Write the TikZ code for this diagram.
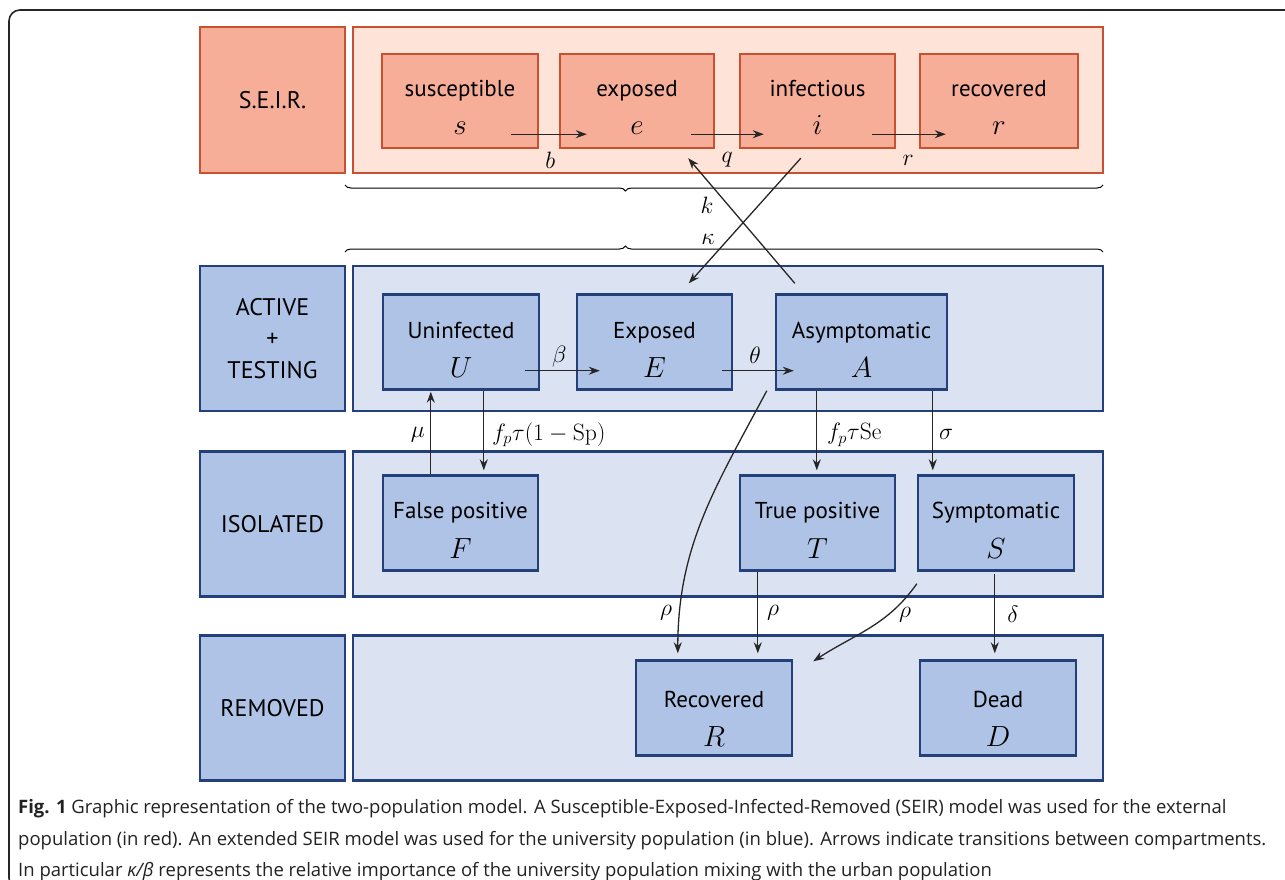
\documentclass[tikz,border=0pt]{standalone}
\usepackage[no-math]{fontspec}
\setmainfont{PT Sans}
\newfontfamily\capfont{Open Sans}
\usetikzlibrary{arrows.meta,decorations.pathreplacing,calc}
\definecolor{redfill}{HTML}{F6AE99}
\definecolor{redline}{HTML}{C9512F}
\definecolor{redpanel}{HTML}{FDE3D8}
\definecolor{bluefill}{HTML}{AEC3E5}
\definecolor{blueline}{HTML}{23407A}
\definecolor{bluepanel}{HTML}{DBE3F3}
\definecolor{captxt}{HTML}{222222}
\tikzset{
  rlab/.style={draw=redline, fill=redfill, line width=2.4pt, minimum width=145pt, minimum height=146pt, inner sep=0pt, font=\fontsize{24}{28}\selectfont},
  rpanel/.style={draw=redline, fill=redpanel, line width=2.4pt, minimum width=750pt, minimum height=146pt, inner sep=0pt},
  rbox/.style={draw=redline, fill=redfill, line width=2.4pt, minimum height=94pt, inner sep=0pt},
  blab/.style={draw=blueline, fill=bluefill, line width=2.4pt, minimum width=145pt, minimum height=145pt, inner sep=0pt, align=center, font=\fontsize{24}{31.5}\selectfont},
  bpanel/.style={draw=blueline, fill=bluepanel, line width=2.4pt, minimum width=750pt, minimum height=145pt, inner sep=0pt},
  bbox/.style={draw=blueline, fill=bluefill, line width=2.4pt, minimum height=95pt, inner sep=0pt},
  cname/.style={font=\fontsize{23}{26}\selectfont, inner sep=0pt, anchor=base},
  cvar/.style={font=\fontsize{24.88}{28}\selectfont, scale=1.17, inner sep=0pt, anchor=base},
  flow/.style={-{Stealth[length=11pt,width=8pt]}, line width=1.3pt, draw=black!85},
  lbl/.style={font=\fontsize{20.74}{24}\selectfont, scale=1.14, inner sep=0pt},
  bracedec/.style={decorate, line width=1pt, decoration={brace, amplitude=6pt, aspect=0.37}},
  frame/.style={line width=1.6pt, rounded corners=11pt, draw=black!85},
  captext/.style={font=\capfont\fontsize{18.5}{22}\selectfont, text=captxt, inner sep=0pt, anchor=base west}
}
\begin{document}
\begin{tikzpicture}[x=1pt,y=-1pt]
\useasboundingbox (0,0) rectangle (1285,879);
\clip (0,0) rectangle (1285,879);
\draw[frame] (1300,10) -- (9,10) -- (9,889) -- (1300,889);

% ---------- S.E.I.R. row
\node[rlab] (seirlab) at (272.5,100) {S.E.I.R.};
\node[rpanel] (seirpanel) at (728,100) {};
\node[rbox, minimum width=156pt] (s) at (460,101) {};
\node[rbox, minimum width=154pt] (e) at (637,101) {};
\node[rbox, minimum width=155pt] (i) at (817.5,101) {};
\node[rbox, minimum width=158pt] (r) at (999,101) {};
\foreach \n/\t/\v in {s/susceptible/s, e/exposed/e, i/infectious/i, r/recovered/r}{
  \node[cname] (\n-name) at ($(\n.center)+(0,-5)$) {\t};
  \node[cvar] (\n-var) at ($(\n.center)+(0,33)$) {$\v$};
}
\draw[flow] ($(s.south east)+(-28,-15)$) -- ($(e.south west)+(28,-15)$);
\draw[flow] ($(e.south east)+(-24,-15)$) -- ($(i.south west)+(25,-15)$);
\draw[flow] ($(i.south east)+(-24,-15)$) -- ($(r.south west)+(27,-15)$);
\node[lbl] (lb) at ($(s.south east)+(11,11)$) {$b$};
\node[lbl] (lq) at ($(e.south east)+(12,11)$) {$q$};
\node[lbl] (lr) at ($(i.south east)+(12,11)$) {$r$};

% ---------- braces
\draw[bracedec, decoration={mirror}] (345,185) -- (1103,185);
\draw[bracedec] (345,252) -- (1103,252);

% ---------- ACTIVE + TESTING row
\node[blab] (actlab) at (272.5,338.5) {ACTIVE\\+\\TESTING};
\node[bpanel] (actpanel) at (728,338.5) {};
\node[bbox, minimum width=156pt] (U) at (461,342) {};
\node[bbox, minimum width=155pt] (E) at (654.5,342) {};
\node[bbox, minimum width=171pt] (A) at (861.5,342) {};
\foreach \n/\t/\v in {U/Uninfected/U, E/Exposed/E, A/Asymptomatic/A}{
  \node[cname] (\n-name) at ($(\n.center)+(0,-4)$) {\t};
  \node[cvar] (\n-var) at ($(\n.center)+(0,35)$) {$\v$};
}
\draw[flow] ($(U.south east)+(-15,-20)$) -- ($(E.south west)+(24,-20)$);
\draw[flow] ($(E.south east)+(-11,-20)$) -- ($(A.south west)+(19,-20)$);
\node[lbl] (lbeta) at ($(U.south east)+(19,-34)$) {$\beta$};
\node[lbl] (ltheta) at ($(E.south east)+(22,-35)$) {$\theta$};

% ---------- ISOLATED row
\node[blab] (isolab) at (272.5,524) {ISOLATED};
\node[bpanel] (isopanel) at (728,524) {};
\node[bbox, minimum width=155pt] (F) at (460.5,523) {};
\node[bbox, minimum width=155pt] (T) at (817.5,523) {};
\node[bbox, minimum width=156pt] (S) at (996,523) {};
\foreach \n/\t/\v in {F/False positive/F, T/True positive/T, S/Symptomatic/S}{
  \node[cname] (\n-name) at ($(\n.center)+(0,-5)$) {\t};
  \node[cvar] (\n-var) at ($(\n.center)+(0,35)$) {$\v$};
}

% ---------- REMOVED row
\node[blab] (remlab) at (272.5,708) {REMOVED};
\node[bpanel] (rempanel) at (728,708) {};
\node[bbox, minimum width=156pt] (R) at (714,708) {};
\node[bbox, minimum width=156pt] (D) at (998,708) {};
\foreach \n/\t/\v in {R/Recovered/R, D/Dead/D}{
  \node[cname] (\n-name) at ($(\n.center)+(0,-1)$) {\t};
  \node[cvar] (\n-var) at ($(\n.center)+(0,38)$) {$\v$};
}

% ---------- cross arrows k / kappa
\draw[flow] ($(i.south west)+(62,9)$) -- ($(E.north west)+(113,-10)$);
\draw[flow] ($(A.north west)+(20,-10)$) -- ($(e.south east)+(-27,9)$);
\node[lbl] (lk) at (707,205) {$k$};
\node[lbl] (lkappa) at (708,239) {$\kappa$};

% ---------- vertical arrows between ACTIVE and ISOLATED
\draw[flow] ($(F.north west)+(49,0)$) -- ($(U.south west)+(49,1)$);
\node[lbl] (lmu) at ($(U.south west)+(36,44)$) {$\mu$};
\draw[flow] ($(U.south west)+(102,0)$) -- ($(F.north west)+(102,-4)$);
\node[lbl, anchor=west] (lfp) at ($(U.south west)+(110,44)$) {$f_p\tau(1-\mathrm{Sp})$};
\draw[flow] ($(A.south west)+(42,0)$) -- ($(T.north west)+(78,-4)$);
\node[lbl, anchor=west] (lfpse) at ($(A.south west)+(52,44)$) {$f_p\tau\mathrm{Se}$};
\draw[flow] ($(A.south west)+(158,0)$) -- ($(S.north west)+(16,-4)$);
\node[lbl, anchor=west] (lsigma) at ($(A.south west)+(164,44)$) {$\sigma$};

% ---------- arrows to REMOVED
\draw[flow] ($(A.south west)+(-8,0)$) to[out=-118, in=90] ($(R.north west)+(43,-6)$);
\node[lbl] (lrho1) at (666,613) {$\rho$};
\draw[flow] ($(T.south west)+(19,0)$) -- ($(R.north west)+(123,-6)$);
\node[lbl] (lrho2) at (773,613) {$\rho$};
\draw[flow] ($(S.south west)+(0,12)$) to[out=-125, in=33] ($(R.north east)+(20,2)$);
\node[lbl] (lrho3) at (905,615) {$\rho$};
\draw[flow] ($(S.south west)+(78,2)$) -- ($(D.north west)+(76,-6)$);
\node[lbl] (ldelta) at (1013,614) {$\delta$};

% ---------- caption
\node[captext] (cap1) at (18,813) {\textbf{Fig. 1} Graphic representation of the two-population model. A Susceptible-Exposed-Infected-Removed (SEIR) model was used for the external};
\node[captext] (cap2) at (18,845) {population (in red). An extended SEIR model was used for the university population (in blue). Arrows indicate transitions between compartments.};
\node[captext] (cap3) at (18,876) {In particular \textit{κ/β} represents the relative importance of the university population mixing with the urban population};
\end{tikzpicture}
\end{document}
